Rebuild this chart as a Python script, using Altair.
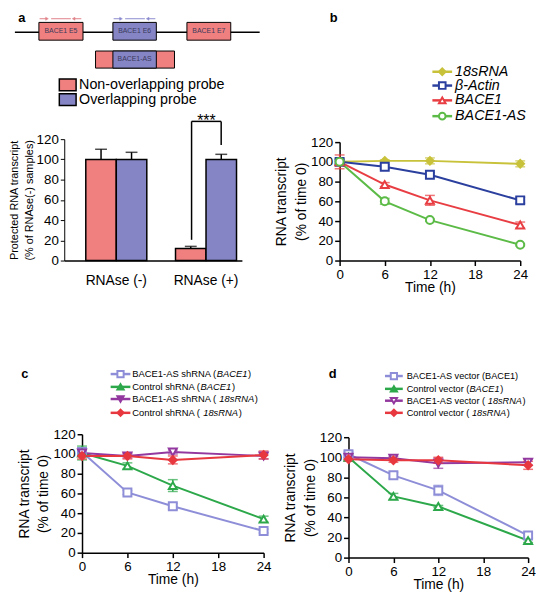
import altair as alt
import pandas as pd

FONT = "Liberation Sans"

# ---------------- data ----------------
# panel a
a_groups = ["RNAse (-)", "RNAse (+)"]
a_probes = ["Non-overlapping probe", "Overlapping probe"]
a_colors = ["#F08080", "#8585C6"]
a_mean_non = [100, 12]
a_err_non = [10, 2]
a_mean_ovl = [100, 100]
a_err_ovl = [7, 5]
a_yticks = [0, 20, 40, 60, 80, 100, 120]
a_exons = ["BACE1 E5", "BACE1 E6", "BACE1 E7"]
a_as_label = "BACE1-AS"
a_sig = "***"

# time courses
times = [0, 6, 12, 24]
x_ticks = [0, 6, 12, 18, 24]
y_ticks = [0, 20, 40, 60, 80, 100, 120]

b_labels = ["18sRNA", "β-Actin", "BACE1", "BACE1-AS"]
b_18s = [100, 101, 101, 98]
b_18s_err = [3, 1, 3, 3]
b_actin = [100, 95, 87, 61]
b_actin_err = [2, 2, 2, 3]
b_bace1 = [100, 77, 61, 36]
b_bace1_err = [7, 2, 5, 3]
b_as = [100, 60, 41, 16]
b_as_err = [3, 3, 1, 1]

c_labels = [
    [("BACE1-AS shRNA (", False), ("BACE1", True), (")", False)],
    [("Control shRNA (", False), ("BACE1", True), (")", False)],
    [("BACE1-AS shRNA ( ", False), ("18sRNA", True), (")", False)],
    [("Control shRNA ( ", False), ("18sRNA", True), (")", False)],
]
c_as_bace1 = [102, 61, 47, 22]
c_as_bace1_err = [3, 2, 3, 2]
c_ctl_bace1 = [101, 88, 68, 34]
c_ctl_bace1_err = [7, 3, 6, 3]
c_as_18s = [101, 98, 102, 98]
c_as_18s_err = [3, 2, 2, 3]
c_ctl_18s = [98, 98, 94, 99]
c_ctl_18s_err = [3, 3, 4, 4]

d_labels = [
    [("BACE1-AS vector (BACE1)", False)],
    [("Control vector (", False), ("BACE1", True), (")", False)],
    [("BACE1-AS vector ( ", False), ("18sRNA", True), (")", False)],
    [("Control vector ( ", False), ("18sRNA", True), (")", False)],
]
d_as_bace1 = [103, 82, 67, 22]
d_as_bace1_err = [3, 3, 5, 2]
d_ctl_bace1 = [100, 61, 51, 17]
d_ctl_bace1_err = [3, 3, 1, 2]
d_as_18s = [100, 99, 94, 95]
d_as_18s_err = [2, 2, 5, 3]
d_ctl_18s = [98, 97, 97, 92]
d_ctl_18s_err = [2, 2, 3, 4]

# ---------------- helpers ----------------
AW = {' ': 278, '(': 333, ')': 333, '-': 333, 'A': 667, 'B': 667, 'C': 722,
      'E': 667, 'N': 722, 'R': 722, 'S': 667, 'a': 556, 'c': 500, 'e': 556,
      'h': 556, 'i': 222, 'l': 222, 'n': 556, 'o': 556, 'r': 333, 's': 500,
      't': 278, 'v': 500}


def text_w(s, fs):
    return sum(AW.get(ch, 556) for ch in s) * fs / 1000.0


def one():
    return alt.Chart(pd.DataFrame({"k": [0]}))


def txt(s, x, y, fs, **kw):
    props = dict(text=s, font=FONT, fontSize=fs, color=kw.pop("color", "black"),
                 align=kw.pop("align", "left"), baseline=kw.pop("baseline", "middle"))
    props.update(kw)
    return one().mark_text(**props).encode(x=alt.value(x), y=alt.value(y))


def hrule(x0, x1, y, color="black", w=1.5):
    return one().mark_rule(color=color, strokeWidth=w).encode(
        x=alt.value(x0), x2=alt.value(x1), y=alt.value(y))


def vrule(x, y0, y1, color="black", w=1.5):
    return one().mark_rule(color=color, strokeWidth=w).encode(
        x=alt.value(x), y=alt.value(y0), y2=alt.value(y1))


def box(x0, x1, y0, y1, fill, sw=1):
    return one().mark_rect(fill=fill, stroke="black", strokeWidth=sw).encode(
        x=alt.value(x0), x2=alt.value(x1), y=alt.value(y0), y2=alt.value(y1))


def pt(x, y, shape, color, fill, size, sw=2):
    return one().mark_point(shape=shape, filled=True, fill=fill, stroke=color,
                            strokeWidth=sw, size=size, opacity=1).encode(
        x=alt.value(x), y=alt.value(y))


def legend_row(y, x0, x1, color, shape, fill, segs, fs, msize, tx, italic_all=False):
    layers = [hrule(x0, x1, y, color=color, w=2.5),
              pt((x0 + x1) / 2, y, shape, color, fill, msize)]
    for s, ital in segs:
        style = "italic" if (ital or italic_all) else "normal"
        layers.append(txt(s, tx, y, fs, fontStyle=style))
        tx += text_w(s, fs) + (0.6 if ital else 0)
    return layers


def spacer(w, h):
    return one().mark_point(opacity=0, size=1).encode(
        x=alt.value(0), y=alt.value(0)).properties(width=w, height=h)


# ---------------- panel a ----------------
a_df = pd.DataFrame({
    "group": a_groups * 2,
    "probe": [a_probes[0]] * 2 + [a_probes[1]] * 2,
    "mean": a_mean_non + a_mean_ovl,
    "err": a_err_non + a_err_ovl,
})
a_df["top"] = a_df["mean"] + a_df["err"]

AX = alt.X("group:N",
           scale=alt.Scale(domain=a_groups, paddingInner=0.32, paddingOuter=0.15, align=0.8),
           axis=alt.Axis(title=None, labelAngle=0, ticks=False, labelFontSize=14,
                         labelPadding=13, domainWidth=1.5))
AXO = alt.XOffset("probe:N", scale=alt.Scale(domain=a_probes, paddingInner=0, paddingOuter=0))


def AY(f):
    return alt.Y(f, scale=alt.Scale(domain=[0, 120], nice=False),
                 axis=alt.Axis(values=a_yticks, title=["Protected RNA transcript", "(% of RNAse(-) samples)"],
                               titleFontSize=11, titleLineHeight=15, titlePadding=2,
                               labelFontSize=13.5, tickSize=4, labelPadding=2))


a_base = alt.Chart(a_df)
a_layers = []
for p, col in zip(a_probes, a_colors):
    a_layers.append(a_base.transform_filter(alt.datum.probe == p).mark_bar(
        fill=col, stroke="black", strokeWidth=1.5).encode(x=AX, xOffset=AXO, y=AY("mean:Q")))
a_layers.append(a_base.mark_rule(color="black", strokeWidth=1.5).encode(
    x=AX, xOffset=AXO, y=AY("mean:Q"), y2="top:Q"))
a_layers.append(a_base.mark_tick(orient="horizontal", color="black", size=12, thickness=1.5).encode(
    x=AX, xOffset=AXO, y=AY("top:Q")))

# significance bracket
a_layers += [vrule(129, -18, 102), vrule(159, -18, 6), hrule(129, 159, -18),
             txt(a_sig, 144, -13, 16, align="center", baseline="alphabetic")]

# gene diagram
a_layers.append(hrule(-50, 198, -108.3, w=1.5))
exon_x = [(-25.7, 19), (49.3, 93.3), (124.3, 168.7)]
exon_fill = [a_colors[0], a_colors[1], a_colors[0]]
for (x0, x1), f, lab in zip(exon_x, exon_fill, a_exons):
    a_layers.append(box(x0, x1, -118.3, -100.3, f))
    a_layers.append(txt(lab, (x0 + x1) / 2, -109.3, 7, align="center", color="#3a3a5a"))
a_layers.append(box(31.7, 111.7, -89.3, -72, a_colors[0]))
a_layers.append(box(49.3, 93.3, -89.3, -72, a_colors[1]))
a_layers.append(txt(a_as_label, 71.3, -80.7, 7, align="center", color="#3a3a5a"))

# probe arrows
for off, col in [(0, "#E08088"), (75, "#8A8AD0")]:
    a_layers.append(hrule(-25 + off, -18 + off, -122, color=col, w=1))
    a_layers.append(pt(-17.5 + off, -122, "triangle-right", col, col, 10, sw=0.5))
    a_layers.append(hrule(-13.3 + off, 6.7 + off, -122, color=col, w=1))
    a_layers.append(hrule(10 + off, 17.3 + off, -122, color=col, w=1))
    a_layers.append(pt(9.5 + off, -122, "triangle-left", col, col, 10, sw=0.5))

# legend a
for i, (p, col) in enumerate(zip(a_probes, a_colors)):
    y0 = -61 + i * 15
    a_layers.append(box(-5, 12, y0, y0 + 12, col, sw=1.5))
    a_layers.append(txt(p, 15, y0 + 6, 14.5))

a_layers.append(txt("a", -43, -119, 13, align="center", baseline="alphabetic", fontWeight="bold"))

panel_a = alt.layer(*a_layers).properties(width=180, height=123)


# ---------------- line panels ----------------
def line_panel(series, width, height, leg, letter_xy, letter):
    xax = alt.Axis(values=x_ticks, title="Time (h)", titleFontSize=14, titlePadding=0,
                   labelFontSize=13.5, labelPadding=2, tickSize=5, labelFlush=False,
                   domainWidth=1.5, tickWidth=1.5)
    yax = alt.Axis(values=y_ticks, title=["RNA transcript", "(% of time 0)"], titleFontSize=14,
                   titleLineHeight=20, titlePadding=2, labelFontSize=13.5, labelPadding=2,
                   tickSize=5, domainWidth=1.5, tickWidth=1.5)
    X = alt.X("time:Q", scale=alt.Scale(domain=[0, 24], nice=False), axis=xax)

    def Y(f):
        return alt.Y(f, scale=alt.Scale(domain=[0, 120], nice=False), axis=yax)

    layers = []
    for s in series:
        df = pd.DataFrame({"time": times, "value": s["vals"],
                           "lo": [v - e for v, e in zip(s["vals"], s["errs"])],
                           "hi": [v + e for v, e in zip(s["vals"], s["errs"])]})
        s["df"] = df
        layers.append(alt.Chart(df).mark_line(color=s["color"], strokeWidth=2).encode(x=X, y=Y("value:Q")))
    for s in series:
        ch = alt.Chart(s["df"])
        layers.append(ch.mark_rule(color=s["color"], strokeWidth=1.5).encode(x=X, y=Y("lo:Q"), y2="hi:Q"))
        layers.append(ch.mark_tick(orient="horizontal", color=s["color"], size=10, thickness=1.5).encode(x=X, y=Y("lo:Q")))
        layers.append(ch.mark_tick(orient="horizontal", color=s["color"], size=10, thickness=1.5).encode(x=X, y=Y("hi:Q")))
    for s in series:
        layers.append(alt.Chart(s["df"]).mark_point(
            shape=s["shape"], filled=True, fill=s["fill"], stroke=s["color"], strokeWidth=2,
            size=s.get("size", 65), opacity=1).encode(x=X, y=Y("value:Q")))
    # legend
    for s, ly in zip(series, leg["rows"]):
        layers += legend_row(ly, leg["x0"], leg["x1"], s["color"], s["shape"], s["lfill"],
                             s["label"], leg["fs"], leg["msize"], leg["tx"],
                             italic_all=leg.get("italic", False))
    layers.append(txt(letter, letter_xy[0], letter_xy[1], 13, align="center",
                      baseline="alphabetic", fontWeight="bold"))
    return alt.layer(*layers).properties(width=width, height=height)


YEL, BLU, RED, GRN = "#C8C23A", "#2B3F9E", "#E83E43", "#5CBB47"
b_series = [
    dict(vals=b_18s, errs=b_18s_err, color=YEL, shape="diamond", fill=YEL, lfill=YEL, label=[(b_labels[0], True)], size=60),
    dict(vals=b_actin, errs=b_actin_err, color=BLU, shape="square", fill="white", lfill="white", label=[(b_labels[1], True)]),
    dict(vals=b_bace1, errs=b_bace1_err, color=RED, shape="triangle-up", fill="white", lfill="white", label=[(b_labels[2], True)]),
    dict(vals=b_as, errs=b_as_err, color=GRN, shape="circle", fill="white", lfill="white", label=[(b_labels[3], True)]),
]
panel_b = line_panel(b_series, 183, 120,
                     dict(rows=[-71.3, -57.3, -42.3, -26.3], x0=94, x1=114, tx=117, fs=14.5, msize=45, italic=True),
                     (-6, -122), "b")

LAV, GR2, PUR, RD2 = "#8E8ED8", "#2CA84A", "#93389E", "#E8383F"
c_series = [
    dict(vals=c_as_bace1, errs=c_as_bace1_err, color=LAV, shape="square", fill="white", lfill="white", label=c_labels[0]),
    dict(vals=c_ctl_bace1, errs=c_ctl_bace1_err, color=GR2, shape="triangle-up", fill="white", lfill=GR2, label=c_labels[1]),
    dict(vals=c_as_18s, errs=c_as_18s_err, color=PUR, shape="triangle-down", fill="white", lfill=PUR, label=c_labels[2]),
    dict(vals=c_ctl_18s, errs=c_ctl_18s_err, color=RD2, shape="diamond", fill=RD2, lfill=RD2, label=c_labels[3], size=60),
]
panel_c = line_panel(c_series, 184, 120,
                     dict(rows=[-61, -48, -35.7, -21.7], x0=29, x1=49, tx=51, fs=9.5, msize=40),
                     (-58, -57), "c")

d_series = [
    dict(vals=d_as_bace1, errs=d_as_bace1_err, color=LAV, shape="square", fill="white", lfill="white", label=d_labels[0]),
    dict(vals=d_ctl_bace1, errs=d_ctl_bace1_err, color=GR2, shape="triangle-up", fill="white", lfill=GR2, label=d_labels[1]),
    dict(vals=d_as_18s, errs=d_as_18s_err, color=PUR, shape="triangle-down", fill="white", lfill="white", label=d_labels[2]),
    dict(vals=d_ctl_18s, errs=d_ctl_18s_err, color=RD2, shape="diamond", fill=RD2, lfill=RD2, label=d_labels[3], size=60),
]
panel_d = line_panel(d_series, 182, 122,
                     dict(rows=[-62, -49, -37, -24.7], x0=37, x1=55, tx=59, fs=9.3, msize=40),
                     (-16, -60), "d")

# ---------------- layout ----------------
# (with flush bounds a nested concat counts as zero size, so spacings are set from origins)
row1 = alt.hconcat(panel_a,
                   alt.vconcat(spacer(1, 1), panel_b, spacing=2, bounds="flush"),
                   spacing=99, bounds="flush")
row2 = alt.hconcat(spacer(1, 1),
                   alt.hconcat(panel_c,
                               alt.vconcat(spacer(1, 1), panel_d, spacing=2, bounds="flush"),
                               spacing=86, bounds="flush"),
                   spacing=17, bounds="flush")
chart = alt.vconcat(row1, row2, spacing=299, bounds="flush").properties(
    padding=0
).configure_view(stroke=None).configure_axis(
    labelFont=FONT, titleFont=FONT, labelColor="black", titleColor="black",
    domainColor="black", tickColor="black", grid=False, titleFontWeight="normal"
)

chart.save("out.html", embed_options={"renderer": "svg", "actions": False})
